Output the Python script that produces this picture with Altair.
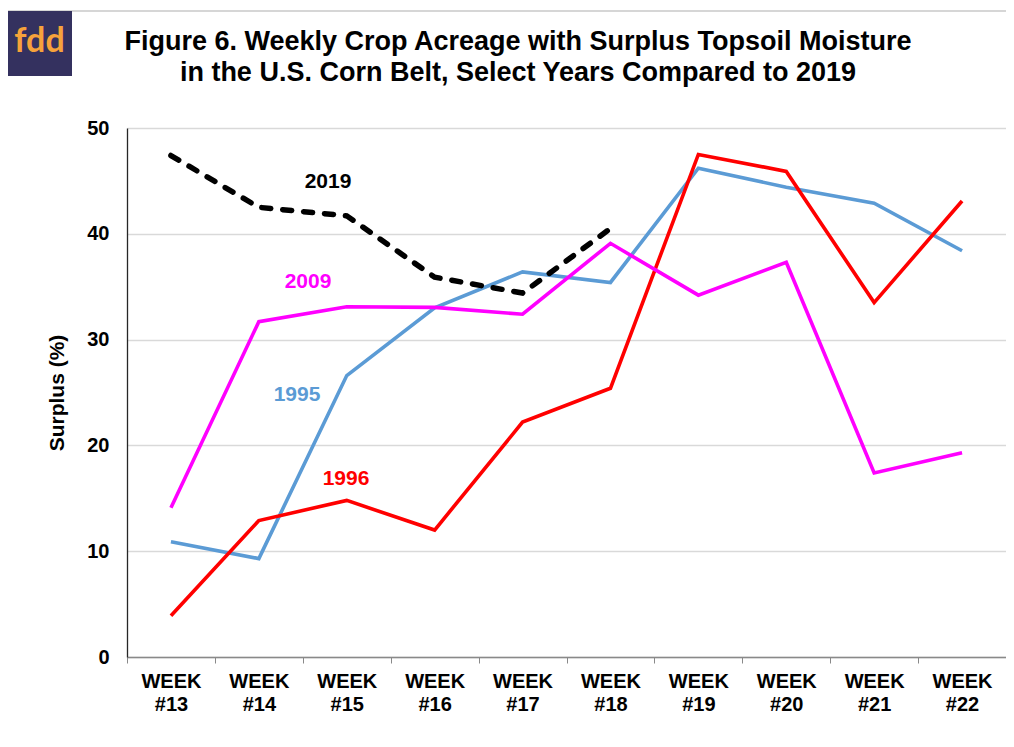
import altair as alt
import pandas as pd

weeks = ["WEEK #13", "WEEK #14", "WEEK #15", "WEEK #16", "WEEK #17",
         "WEEK #18", "WEEK #19", "WEEK #20", "WEEK #21", "WEEK #22"]
y1995 = [10.9, 9.3, 26.6, 33.0, 36.4, 35.4, 46.2, 44.4, 42.9, 38.4]
y1996 = [3.9, 12.9, 14.8, 12.0, 22.2, 25.4, 47.5, 45.9, 33.5, 43.1]
y2009 = [14.1, 31.7, 33.1, 33.05, 32.4, 39.1, 34.2, 37.3, 17.4, 19.3]
y2019 = [47.4, 42.5, 41.7, 35.9, 34.4, 40.5]

series_names = ["1995", "1996", "2009"]
series_colors = ["#5b9bd5", "#ff0000", "#ff00ff"]

title_lines = ["Figure 6. Weekly Crop Acreage with Surplus Topsoil Moisture",
               "in the U.S. Corn Belt, Select Years Compared to 2019"]

rows = []
for name, vals in zip(series_names, [y1995, y1996, y2009]):
    for w, v in zip(weeks, vals):
        rows.append({"week": w, "value": v, "year": name})
solid = pd.DataFrame(rows)
dashed = pd.DataFrame({"week": weeks[:len(y2019)], "value": y2019, "year": "2019"})

W, H = 879, 529
FONT = "Liberation Sans"

xenc = alt.X("week:N", sort=weeks, title=None,
             scale=alt.Scale(paddingInner=0, paddingOuter=0),
             axis=alt.Axis(labelExpr="split(datum.label, ' ')", labelAngle=0,
                           labelFont=FONT, labelFontSize=20, labelFontWeight="bold",
                           labelColor="#000000", labelLineHeight=23, labelPadding=8,
                           tickBand="extent", tickColor="#898989", tickSize=6,
                           domainColor="#898989", domainWidth=1.3, grid=False))
yenc = alt.Y("value:Q", title="Surplus (%)",
             scale=alt.Scale(domain=[0, 50], nice=False),
             axis=alt.Axis(values=[0, 10, 20, 30, 40, 50], ticks=False,
                           labelFont=FONT, labelFontSize=20, labelFontWeight="bold",
                           labelColor="#000000", labelPadding=18,
                           titleFont=FONT, titleFontSize=21, titleFontWeight="bold",
                           titleColor="#000000", titlePadding=19,
                           domainColor="#262626", domainWidth=1.3,
                           gridColor="#d9d9d9", gridWidth=1.3))

lines = alt.Chart(solid).mark_line(strokeWidth=3.6, strokeJoin="miter").encode(
    x=xenc, y=yenc,
    color=alt.Color("year:N", scale=alt.Scale(domain=series_names, range=series_colors),
                    legend=None),
    order=alt.Order("year:N"),
)

line2019 = alt.Chart(dashed).mark_line(
    strokeWidth=5.5, color="#000000", strokeDash=[9, 12], strokeCap="round"
).encode(x=alt.X("week:N", sort=weeks), y="value:Q")

one = pd.DataFrame({"k": [0]})

annotations = []
for txt, col, px, py in [("2019", "#000000", 201, 54), ("2009", "#ff00ff", 181, 154),
                         ("1995", "#5b9bd5", 170, 267), ("1996", "#ff0000", 219, 351)]:
    annotations.append(
        alt.Chart(one).mark_text(text=txt, font=FONT, fontSize=21, fontWeight="bold",
                                 color=col, align="center", baseline="middle")
        .encode(x=alt.value(px), y=alt.value(py))
    )

titles = []
for txt, py in zip(title_lines, [-86, -55]):
    titles.append(
        alt.Chart(one).mark_text(text=txt, font=FONT, fontSize=27, fontWeight="bold",
                                 color="#000000", align="center", baseline="middle")
        .encode(x=alt.value(391), y=alt.value(py))
    )

border_left = alt.Chart(one).mark_rule(color="#c8c8c8", strokeWidth=1.5).encode(
    x=alt.value(-120), y=alt.value(-117), y2=alt.value(640))
border_top = alt.Chart(one).mark_rule(color="#c8c8c8", strokeWidth=1.5).encode(
    x=alt.value(-120), x2=alt.value(900), y=alt.value(-117))
logo_box = alt.Chart(one).mark_rect(color="#34315f").encode(
    x=alt.value(-120), x2=alt.value(-55), y=alt.value(-117), y2=alt.value(-52))
logo_text = alt.Chart(one).mark_text(text="fdd", font="Lato", fontSize=34,
                                     fontWeight="bold", color="#f6a23b",
                                     align="center", baseline="middle").encode(
    x=alt.value(-87.5), y=alt.value(-86))

chart = alt.layer(
    lines, line2019, *annotations, *titles, border_left, border_top, logo_box, logo_text
).properties(
    width=W, height=H,
    autosize=alt.AutoSizeParams(type="none"),
    padding={"left": 119, "top": 120, "right": 0, "bottom": 80},
).configure_view(stroke=None)

chart.save("out.html", embed_options={"renderer": "svg", "actions": False})
